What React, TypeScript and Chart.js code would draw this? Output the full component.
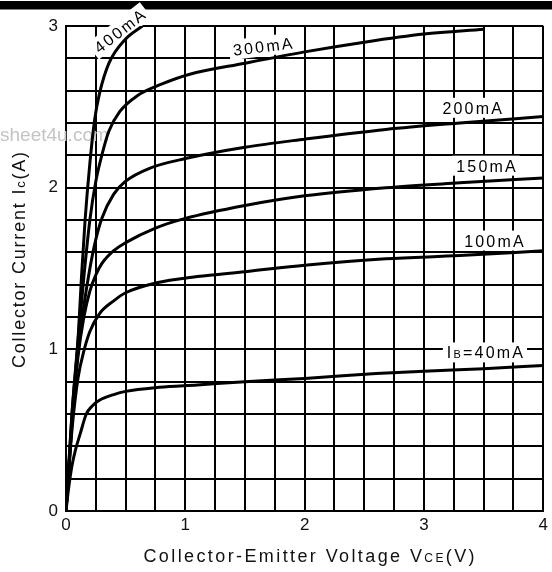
import { useEffect, useRef } from "react";
import { Chart, registerables } from "chart.js";

Chart.register(...registerables);

// ---- data ----
const v400 = [0, 0.05, 0.1, 0.13, 0.16, 0.2, 0.24, 0.28, 0.36, 0.5, 0.64];
const i400 = [0, 0.6, 1.05, 1.45, 1.8, 2.15, 2.42, 2.58, 2.77, 2.92, 3.0];

const v300 = [0, 0.05, 0.1, 0.15, 0.2, 0.25, 0.3, 0.36, 0.45, 0.6, 0.8, 1.03, 1.5, 2.0, 2.5, 3.0, 3.5];
const i300 = [0, 0.6, 1.05, 1.45, 1.8, 2.04, 2.2, 2.35, 2.47, 2.57, 2.64, 2.7, 2.77, 2.84, 2.9, 2.95, 2.98];

const v200 = [0, 0.05, 0.1, 0.15, 0.2, 0.25, 0.3, 0.4, 0.5, 0.7, 1.0, 1.5, 2.0, 2.68, 3.3, 4.0];
const i200 = [0, 0.55, 0.98, 1.27, 1.5, 1.68, 1.81, 1.96, 2.04, 2.12, 2.18, 2.25, 2.3, 2.36, 2.4, 2.44];

const v150 = [0, 0.05, 0.1, 0.15, 0.2, 0.25, 0.3, 0.4, 0.5, 0.75, 1.0, 1.5, 2.0, 2.68, 3.3, 4.0];
const i150 = [0, 0.55, 0.95, 1.2, 1.36, 1.46, 1.53, 1.61, 1.66, 1.75, 1.81, 1.89, 1.95, 2.0, 2.03, 2.06];

const v100 = [0, 0.05, 0.1, 0.15, 0.2, 0.28, 0.4, 0.5, 0.75, 1.1, 1.5, 2.0, 2.68, 3.3, 4.0];
const i100 = [0, 0.5, 0.82, 0.99, 1.11, 1.22, 1.3, 1.35, 1.41, 1.45, 1.48, 1.52, 1.56, 1.58, 1.61];

const v40 = [0, 0.02, 0.05, 0.08, 0.12, 0.17, 0.22, 0.28, 0.4, 0.5, 0.78, 1.1, 1.5, 2.0, 2.6, 3.0, 3.5, 4.0];
const i40 = [0, 0.13, 0.28, 0.38, 0.48, 0.6, 0.65, 0.685, 0.72, 0.74, 0.765, 0.78, 0.8, 0.82, 0.85, 0.865, 0.88, 0.9];

const seriesV = [v400, v300, v200, v150, v100, v40];
const seriesI = [i400, i300, i200, i150, i100, i40];

// curve labels: main text, small subscript, rest
const curveLabelMain = ["400mA", "300mA", "200mA", "150mA", "100mA", "I"];
const curveLabelSub = ["", "", "", "", "", "B"];
const curveLabelRest = ["", "", "", "", "", "=40mA"];
// label anchors in data units (V, A) and rotation in degrees
const labelV = [0.447, 1.648, 3.404, 3.52, 3.586, 3.511];
const labelI = [2.97, 2.875, 2.494, 2.136, 1.673, 0.981];
const labelRot = [-38, -7, 0, 0, 0, 0];

const X_MIN = 0, X_MAX = 4, X_STEP = 0.25;
const Y_MIN = 0, Y_MAX = 3, Y_STEP = 0.2;

const FONT = '"Liberation Sans", Arial, sans-serif';

type Part = { t: string; size: number };

function drawRich(ctx: CanvasRenderingContext2D, parts: Part[], x: number, y: number, spacing: number) {
  const widths = parts.map((p) => {
    ctx.font = `${p.size}px ${FONT}`;
    (ctx as any).letterSpacing = `${spacing}px`;
    return ctx.measureText(p.t).width;
  });
  const total = widths.reduce((a, b) => a + b, 0) - spacing;
  let cx = x - total / 2;
  parts.forEach((p, k) => {
    ctx.font = `${p.size}px ${FONT}`;
    (ctx as any).letterSpacing = `${spacing}px`;
    ctx.fillText(p.t, cx, y);
    cx += widths[k];
  });
  return total;
}

function measureRich(ctx: CanvasRenderingContext2D, parts: Part[], spacing: number) {
  let w = 0;
  parts.forEach((p) => {
    ctx.font = `${p.size}px ${FONT}`;
    (ctx as any).letterSpacing = `${spacing}px`;
    w += ctx.measureText(p.t).width;
  });
  return w - spacing;
}

const decorPlugin = {
  id: "decor",
  beforeDraw(chart: any) {
    const ctx = chart.ctx as CanvasRenderingContext2D;
    ctx.save();
    ctx.fillStyle = "#000";
    ctx.fillRect(0, 1, chart.width, 8.5);
    ctx.restore();
  },
  beforeDatasetsDraw(chart: any) {
    const ctx = chart.ctx as CanvasRenderingContext2D;
    const xs = chart.scales.x;
    const ys = chart.scales.y;
    ctx.save();
    // watermark
    ctx.fillStyle = "#c4c4c4";
    ctx.font = `19px ${FONT}`;
    ctx.textAlign = "left";
    ctx.textBaseline = "alphabetic";
    ctx.fillText("sheet4u.com", 0, 141);

    // curve labels
    ctx.textAlign = "left";
    for (let k = 0; k < curveLabelMain.length; k++) {
      const parts: Part[] = [{ t: curveLabelMain[k], size: 16 }];
      if (curveLabelSub[k]) parts.push({ t: curveLabelSub[k], size: 11 });
      if (curveLabelRest[k]) parts.push({ t: curveLabelRest[k], size: 16 });
      const px = xs.getPixelForValue(labelV[k]);
      const py = ys.getPixelForValue(labelI[k]);
      ctx.save();
      ctx.translate(px, py);
      ctx.rotate((labelRot[k] * Math.PI) / 180);
      const w = measureRich(ctx, parts, 2.2);
      ctx.fillStyle = "#fff";
      ctx.fillRect(-w / 2 - 4, -10, w + 8, 20);
      ctx.fillStyle = "#000";
      ctx.textBaseline = "alphabetic";
      drawRich(ctx, parts, 0, 6, 2.2);
      ctx.restore();
    }
    ctx.restore();
  },
  afterDraw(chart: any) {
    const ctx = chart.ctx as CanvasRenderingContext2D;
    ctx.save();
    ctx.fillStyle = "#111";
    ctx.textAlign = "left";
    ctx.textBaseline = "alphabetic";
    // x title
    drawRich(
      ctx,
      [
        { t: "Collector-Emitter Voltage V", size: 18 },
        { t: "CE", size: 12 },
        { t: "(V)", size: 18 },
      ],
      309,
      562,
      2.4
    );
    // y title
    ctx.translate(25, 260);
    ctx.rotate(-Math.PI / 2);
    drawRich(
      ctx,
      [
        { t: "Collector Current I", size: 18 },
        { t: "c", size: 13 },
        { t: "(A)", size: 18 },
      ],
      0,
      0,
      1.8
    );
    ctx.restore();
  },
};

const isInt = (v: number) => Math.abs(v - Math.round(v)) < 1e-6;

export default function App() {
  const ref = useRef<HTMLCanvasElement | null>(null);

  useEffect(() => {
    document.body.style.margin = "0";
    const canvas = ref.current;
    if (!canvas) return;
    const datasets = seriesV.map((vs, k) => ({
      data: vs.map((v, j) => ({ x: v, y: seriesI[k][j] })),
      borderColor: "#000",
      borderWidth: 3,
      pointRadius: 0,
      fill: false,
      cubicInterpolationMode: "monotone" as const,
    }));
    const chart = new Chart(canvas, {
      type: "line",
      data: { datasets },
      options: {
        animation: false,
        responsive: false,
        maintainAspectRatio: false,
        events: [],
        layout: { padding: { top: 26, right: 3, left: 0, bottom: 0 } },
        plugins: { legend: { display: false }, tooltip: { enabled: false } },
        scales: {
          x: {
            type: "linear",
            min: X_MIN,
            max: X_MAX,
            afterFit: (s: any) => {
              s.height = 61;
            },
            ticks: {
              stepSize: X_STEP,
              autoSkip: false,
              maxRotation: 0,
              padding: 4,
              color: "#111",
              font: { family: FONT, size: 17 },
              callback: (v: any) => (isInt(Number(v)) ? String(Math.round(Number(v))) : ""),
            },
            grid: { color: "#000", lineWidth: 2, drawTicks: false },
            border: { color: "#000", width: 2 },
          },
          y: {
            type: "linear",
            min: Y_MIN,
            max: Y_MAX,
            afterFit: (s: any) => {
              s.width = 66;
            },
            ticks: {
              stepSize: Y_STEP,
              autoSkip: false,
              padding: 8,
              color: "#111",
              font: { family: FONT, size: 17 },
              callback: (v: any) => (isInt(Number(v)) ? String(Math.round(Number(v))) : ""),
            },
            grid: { color: "#000", lineWidth: 2, drawTicks: false },
            border: { color: "#000", width: 2 },
          },
        },
      },
      plugins: [decorPlugin],
    });
    return () => chart.destroy();
  }, []);

  return (
    <div style={{ width: 552, height: 572, position: "relative", background: "#fff" }}>
      <canvas ref={ref} width={552} height={572} style={{ display: "block" }} />
    </div>
  );
}
